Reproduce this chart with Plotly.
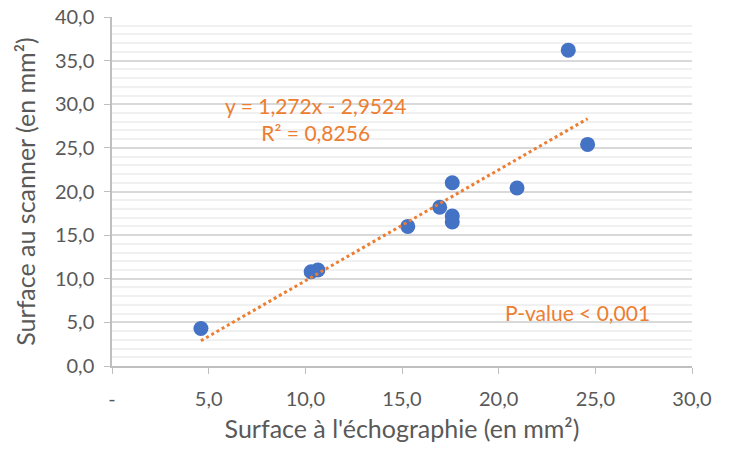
import plotly.graph_objs as go

# Surface measurements (mm²)
echo_x = [4.6, 10.3, 10.65, 15.3, 16.95, 17.6, 17.6, 17.6, 20.95, 23.6, 24.6]
scanner_y = [4.3, 10.8, 11.0, 16.0, 18.2, 21.0, 17.2, 16.5, 20.4, 36.2, 25.4]

slope = 1.272
intercept = -2.9524
eq_text = 'y = 1,272x - 2,9524<br>R² = 0,8256'
pval_text = 'P-value < 0,001'

x_tickvals = [0, 5, 10, 15, 20, 25, 30]
x_ticktext = ['-', '5,0', '10,0', '15,0', '20,0', '25,0', '30,0']

blue = '#4472C4'
orange = '#ED7D31'
font_family = 'Lato, Open Sans, sans-serif'

fig = go.Figure()

fig.add_trace(go.Scatter(x=echo_x, y=scanner_y, mode='markers',
                         marker=dict(color=blue, size=15), showlegend=False))

trend_x = [min(echo_x), max(echo_x)]
trend_y = [slope * v + intercept for v in trend_x]
fig.add_trace(go.Scatter(x=trend_x, y=trend_y, mode='lines',
                         line=dict(color=orange, width=3, dash='dot'), showlegend=False))

fig.add_annotation(x=10.55, y=28.3, text=eq_text, showarrow=False, xref='x', yref='y',
                   font=dict(color=orange, size=21, family=font_family), align='center')
fig.add_annotation(x=24.1, y=6.1, text=pval_text, showarrow=False, xref='x', yref='y',
                   font=dict(color=orange, size=21, family=font_family))

fig.update_layout(
    width=734, height=452,
    margin=dict(l=112, r=42, t=17, b=86),
    paper_bgcolor='white', plot_bgcolor='white',
    separators=', ',
    font=dict(family=font_family, color='#595959', size=20),
    xaxis=dict(range=[0, 30], tickvals=x_tickvals, ticktext=x_ticktext, automargin=False,
               showgrid=False, zeroline=False, showline=True, linecolor='#bfbfbf', linewidth=1.5,
               ticks='outside', ticklen=6, tickcolor='#bfbfbf', ticklabelstandoff=8,
               title=dict(text="Surface à l'échographie (en mm²)", font=dict(size=25), standoff=12)),
    yaxis=dict(range=[0, 40], dtick=5, tickformat='.1f', automargin=False,
               showgrid=True, gridcolor='#d9d9d9', gridwidth=1.5, zeroline=False,
               showline=True, linecolor='#bfbfbf', linewidth=1.5,
               ticks='outside', ticklen=6, tickcolor='#bfbfbf', ticklabelstandoff=6,
               minor=dict(dtick=1, showgrid=True, gridcolor='#f0f0f0', gridwidth=1.5),
               title=dict(text='Surface au scanner (en mm²)', font=dict(size=25), standoff=12)),
)

# drop the default page margin so the figure sits at the window's top-left corner
fig.write_html("out.html", config={'displayModeBar': False},
               post_script="document.body.style.margin = '0';")
